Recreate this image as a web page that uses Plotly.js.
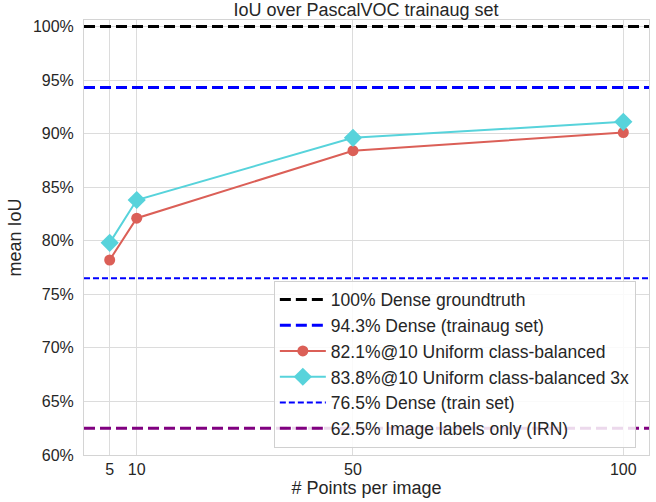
<!DOCTYPE html>
<html>
<head>
<meta charset="utf-8">
<script src="https://cdn.plot.ly/plotly-3.0.1.min.js"></script>
<style>html,body{margin:0;padding:0;background:#fff;}#chart{width:656px;height:502px;}</style>
</head>
<body>
<div id="chart"></div>
<script>
// Data
const pointsPerImage = [5, 10, 50, 100];
const uniformBalanced = [78.2, 82.1, 88.4, 90.1];
const uniformBalanced3x = [79.8, 83.8, 89.6, 91.1];
const denseGroundtruth = 100;
const denseTrainaug = 94.3;
const denseTrain = 76.5;
const imageLabelsIRN = 62.5;
const xExtent = [0.25, 104.75];
const yTicks = [60, 65, 70, 75, 80, 85, 90, 95, 100];
const yTickText = yTicks.map(v => v + '%');
const xTicks = [5, 10, 50, 100];

const FONT = 'Liberation Sans, Arial, sans-serif';
const TXT = '#262626';

function hline(val, name, color, width, dash) {
  return {
    x: xExtent, y: [val, val], mode: 'lines', name: name,
    line: {color: color, width: width, dash: dash}, hoverinfo: 'skip'
  };
}

const traces = [
  hline(denseGroundtruth, '100% Dense groundtruth', '#000000', 3, '11px,5px'),
  hline(denseTrainaug, '94.3% Dense (trainaug set)', '#0000ff', 3, '11px,5px'),
  {
    x: pointsPerImage, y: uniformBalanced, mode: 'lines+markers',
    name: '82.1%@10 Uniform class-balanced',
    line: {color: '#db5f57', width: 2},
    marker: {color: '#db5f57', size: 11, symbol: 'circle'}
  },
  {
    x: pointsPerImage, y: uniformBalanced3x, mode: 'lines+markers',
    name: '83.8%@10 Uniform class-balanced 3x',
    line: {color: '#57d3db', width: 2},
    marker: {color: '#57d3db', size: 14, symbol: 'diamond'}
  },
  hline(denseTrain, '76.5% Dense (train set)', '#0000ff', 2, '6px,3px'),
  hline(imageLabelsIRN, '62.5% Image labels only (IRN)', '#800080', 3, '11px,5px')
];

const layout = {
  width: 656, height: 502,
  margin: {l: 84, r: 7, t: 20, b: 47},
  paper_bgcolor: '#ffffff', plot_bgcolor: '#ffffff',
  font: {family: FONT, size: 16, color: TXT},
  title: {text: 'IoU over PascalVOC trainaug set', font: {family: FONT, size: 18, color: TXT},
          x: 0.558, xanchor: 'center', y: 0.994, yanchor: 'top'},
  xaxis: {
    range: xExtent, tickvals: xTicks, ticktext: xTicks.map(String),
    showgrid: true, gridcolor: '#dcdcdc', gridwidth: 1,
    zeroline: false, showline: true, linecolor: '#d4d4d4', linewidth: 1, mirror: true,
    ticks: '', tickfont: {family: FONT, size: 16, color: TXT},
    title: {text: '# Points per image', font: {family: FONT, size: 18, color: TXT}, standoff: 4}
  },
  yaxis: {
    range: [60, 100.6], tickvals: yTicks, ticktext: yTickText,
    showgrid: true, gridcolor: '#dcdcdc', gridwidth: 1,
    zeroline: false, showline: true, linecolor: '#d4d4d4', linewidth: 1, mirror: true,
    ticks: '', ticklabelstandoff: 6, tickfont: {family: FONT, size: 16, color: TXT},
    title: {text: 'mean IoU', font: {family: FONT, size: 18, color: TXT}, standoff: 6}
  },
  showlegend: true,
  legend: {
    x: 0.336, xanchor: 'left', y: 0.017, yanchor: 'bottom',
    bgcolor: 'rgba(255,255,255,0.85)', bordercolor: '#d0d0d0', borderwidth: 1,
    font: {family: FONT, size: 17.5, color: TXT},
    tracegroupgap: 0, itemwidth: 46
  }
};

Plotly.newPlot('chart', traces, layout, {displayModeBar: false, staticPlot: true});
</script>
</body>
</html>
